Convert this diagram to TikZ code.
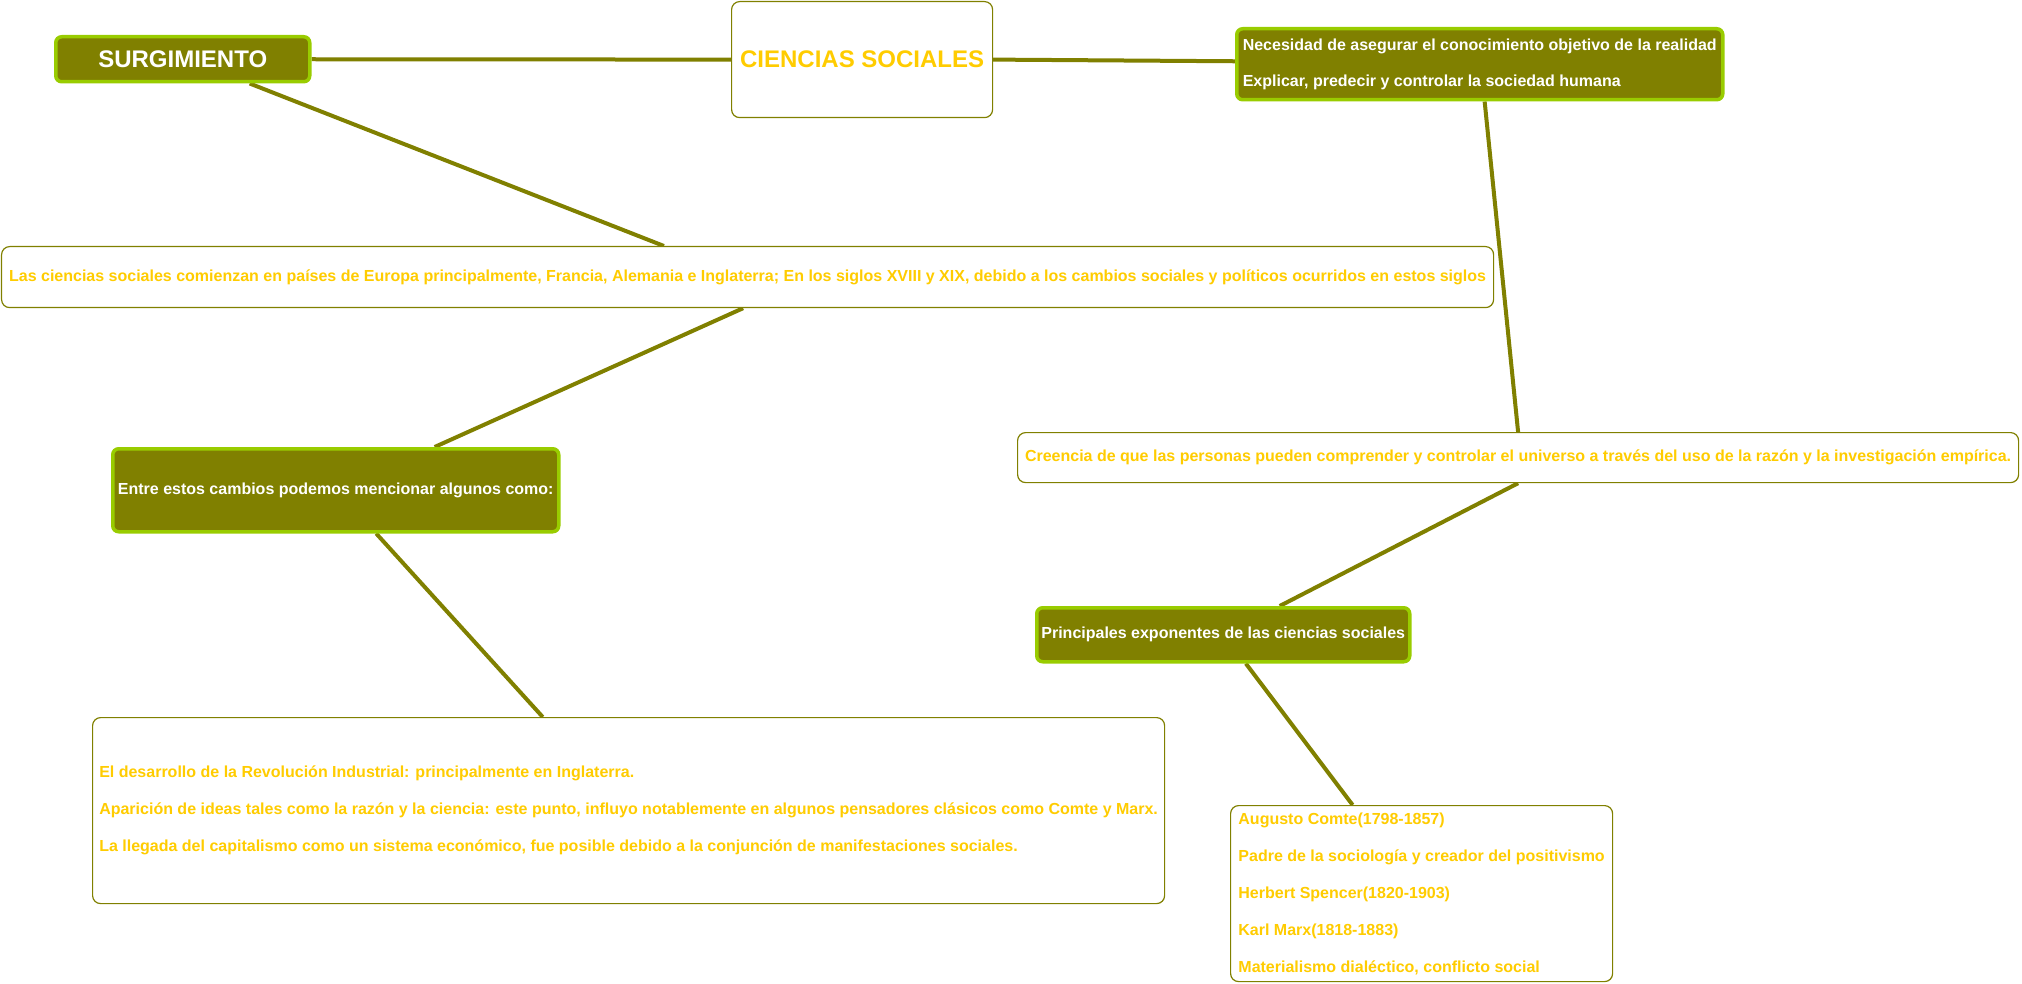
\documentclass[tikz,border=0pt]{standalone}
\usepackage{fontspec}
\setmainfont{Liberation Sans}
\usetikzlibrary{calc,backgrounds}
\definecolor{oliv}{HTML}{808000}
\definecolor{lgreen}{HTML}{99CC00}
\definecolor{goldtxt}{HTML}{FFCC00}
\tikzset{
  darkbox/.style={draw=lgreen, line width=3.5pt, fill=oliv, rounded corners=6pt, text=white,
    font=\bfseries\fontsize{16}{36}\selectfont, anchor=north west, inner sep=0pt, align=left},
  lightbox/.style={draw=oliv, line width=1.2pt, fill=white, rounded corners=8pt, text=goldtxt,
    font=\bfseries\fontsize{16}{37}\selectfont, anchor=north west, inner sep=0pt, align=left},
  bigtext/.style={font=\bfseries\fontsize{24}{28}\selectfont},
  link/.style={draw=oliv, line width=4pt}
}
\begin{document}
\begin{tikzpicture}[x=1pt,y=-1pt]
\useasboundingbox (0,0) rectangle (2022,984);
\node[darkbox, bigtext, minimum width=254pt, minimum height=45pt] (surg) at (54,35) {SURGIMIENTO};
\node[lightbox, bigtext, minimum width=261pt, minimum height=116pt] (cs) at (731,1) {CIENCIAS SOCIALES};
\node[darkbox, minimum width=486pt, minimum height=71pt] (nec) at (1235,27)
  {Necesidad de asegurar el conocimiento objetivo de la realidad\\Explicar, predecir y controlar la sociedad humana};
\node[lightbox, minimum width=1492pt, minimum height=61pt] (las) at (1,246)
  {Las ciencias sociales comienzan en países de Europa principalmente, Francia, Alemania e Inglaterra; En los siglos XVIII y XIX, debido a los cambios sociales y políticos ocurridos en estos siglos};
\node[darkbox, minimum width=446pt, minimum height=83pt] (entre) at (111,447)
  {Entre estos cambios podemos mencionar algunos como:};
\node[lightbox, minimum width=1001pt, minimum height=50pt] (creen) at (1017,432)
  {Creencia de que las personas pueden comprender y controlar el universo a través del uso de la razón y la investigación empírica.};
\node[darkbox, minimum width=373pt, minimum height=54pt] (princ) at (1035,606)
  {Principales exponentes de las ciencias sociales};
\node[lightbox, minimum width=1072pt, minimum height=186pt] (desar) at (92,717)
  {El desarrollo de la Revolución Industrial: principalmente en Inglaterra.\\
   Aparición de ideas tales como la razón y la ciencia: este punto, influyo notablemente en algunos pensadores clásicos como Comte y Marx.\\
   La llegada del capitalismo como un sistema económico, fue posible debido a la conjunción de manifestaciones sociales.};
\node[lightbox, minimum width=382pt, minimum height=176pt] (aug) at (1230,805)
  {Augusto Comte(1798-1857)\\
   Padre de la sociología y creador del positivismo\\
   Herbert Spencer(1820-1903)\\
   Karl Marx(1818-1883)\\
   Materialismo dialéctico, conflicto social};
% connectors
\begin{scope}[on background layer]
\draw[link] (surg.east) -- (cs.west);
\draw[link] (cs.east) -- ($(nec.north west)!0.46!(nec.south west)$);
\draw[link] ($(surg.south west)!0.76!(surg.south east)$) -- ($(las.north west)!0.444!(las.north east)$);
\draw[link] ($(las.south west)!0.497!(las.south east)$) -- ($(entre.north west)!0.72!(entre.north east)$);
\draw[link] ($(entre.south west)!0.59!(entre.south east)$) -- ($(desar.north west)!0.42!(desar.north east)$);
\draw[link] ($(nec.south west)!0.51!(nec.south east)$) -- (creen.north);
\draw[link] (creen.south) -- ($(princ.north west)!0.65!(princ.north east)$);
\draw[link] ($(princ.south west)!0.56!(princ.south east)$) -- ($(aug.north west)!0.32!(aug.north east)$);
\end{scope}
\end{tikzpicture}
\end{document}
